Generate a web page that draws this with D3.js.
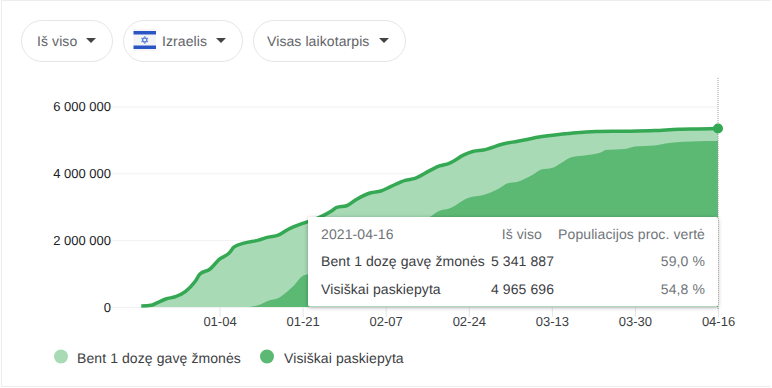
<!DOCTYPE html>
<html>
<head>
<meta charset="utf-8">
<script src="https://cdnjs.cloudflare.com/ajax/libs/d3/7.8.5/d3.min.js"></script>
<style>
  html, body { margin: 0; padding: 0; background: #fff; overflow: hidden; }
  text { font-family: Arial, "Liberation Sans", sans-serif; text-rendering: geometricPrecision; }
  .label14 { letter-spacing: 0.09px; }
  .y-axis path, .x-axis path { display: none; }
  .y-axis line { stroke: #f1f1f1; }
  .x-axis line { stroke: #e4e4e4; }
  .y-axis text { font-size: 13px; fill: #202124; }
  .x-axis text { font-size: 13px; fill: #3c4043; }
</style>
</head>
<body>
<div id="chart-container"></div>
<script>
// Dates and values
var firstDoseDates = ["2020-12-19","2020-12-21","2020-12-22","2020-12-24","2020-12-26","2020-12-28","2020-12-30","2020-12-31","2021-01-02","2021-01-04","2021-01-06","2021-01-07","2021-01-09","2021-01-12","2021-01-14","2021-01-16","2021-01-18","2021-01-21","2021-01-22","2021-01-25","2021-01-27","2021-01-28","2021-01-30","2021-02-01","2021-02-04","2021-02-06","2021-02-08","2021-02-11","2021-02-13","2021-02-16","2021-02-18","2021-02-20","2021-02-23","2021-02-25","2021-02-27","2021-03-03","2021-03-06","2021-03-11","2021-03-17","2021-03-22","2021-03-28","2021-04-03","2021-04-08","2021-04-12","2021-04-16"];
var firstDoseValues = [30000,50000,110000,240000,310000,460000,760000,990000,1130000,1430000,1620000,1800000,1910000,2000000,2090000,2150000,2320000,2500000,2550000,2720000,2880000,2980000,3030000,3220000,3420000,3470000,3600000,3790000,3850000,4080000,4220000,4300000,4550000,4660000,4700000,4880000,4960000,5100000,5200000,5250000,5260000,5280000,5320000,5330000,5341887];

var fullDates = ["2021-01-10","2021-01-12","2021-01-14","2021-01-16","2021-01-17","2021-01-19","2021-01-21","2021-01-22","2021-01-25","2021-01-29","2021-02-02","2021-02-07","2021-02-12","2021-02-16","2021-02-18","2021-02-20","2021-02-24","2021-02-27","2021-03-02","2021-03-04","2021-03-06","2021-03-09","2021-03-11","2021-03-13","2021-03-15","2021-03-17","2021-03-20","2021-03-23","2021-03-24","2021-03-28","2021-03-30","2021-04-03","2021-04-06","2021-04-12","2021-04-16"];
var fullValues = [0,60000,190000,260000,360000,610000,930000,980000,1260000,1700000,2000000,2240000,2480000,2690000,2880000,2950000,3270000,3350000,3530000,3700000,3750000,3950000,4120000,4160000,4320000,4480000,4540000,4620000,4700000,4730000,4800000,4830000,4910000,4960000,4965696];

var xTickDates = ["2021-01-04","2021-01-21","2021-02-07","2021-02-24","2021-03-13","2021-03-30","2021-04-16"];
var yTickValues = [0, 2000000, 4000000, 6000000];

var seriesNames = ["Bent 1 dozę gavę žmonės", "Visiškai paskiepyta"];
var seriesColors = ["#a8dab5", "#5bb974"];
var lineColor = "#34a853";

var chipLabels = ["Iš viso", "Izraelis", "Visas laikotarpis"];
var tooltipDate = "2021-04-16";
var tooltipHeaders = ["Iš viso", "Populiacijos proc. vertė"];
var tooltipTotals = ["5 341 887", "4 965 696"];
var tooltipShares = ["59,0 %", "54,8 %"];

var parseDate = d3.timeParse("%Y-%m-%d");

var firstDose = firstDoseDates.map(function(d, i) { return { date: parseDate(d), value: firstDoseValues[i] }; });
var full = fullDates.map(function(d, i) { return { date: parseDate(d), value: fullValues[i] }; });

var svg = d3.select("#chart-container")
  .append("svg")
  .attr("width", 772)
  .attr("height", 388)
  .style("display", "block");

var defs = svg.append("defs");
var shadow = defs.append("filter").attr("id", "tipShadow")
  .attr("x", "-5%").attr("y", "-10%").attr("width", "110%").attr("height", "125%");
shadow.append("feDropShadow")
  .attr("dx", 0).attr("dy", 1).attr("stdDeviation", 2)
  .attr("flood-color", "#000").attr("flood-opacity", 0.3);

// Card border
svg.append("path")
  .attr("d", "M770.5,0.5H1.5V386.5H770.5")
  .attr("fill", "none")
  .attr("stroke", "#ececec");

// Chips on top
var chipBoxes = [
  { x: 21.5, w: 91, textX: 37, arrowX: 91 },
  { x: 123.5, w: 119, textX: 162, arrowX: 221 },
  { x: 253.5, w: 152, textX: 267, arrowX: 384 }
];
var chips = svg.selectAll(".chip")
  .data(chipBoxes)
  .enter()
  .append("g")
  .attr("class", "chip");
chips.append("rect")
  .attr("x", function(d) { return d.x; })
  .attr("y", 20.5)
  .attr("width", function(d) { return d.w; })
  .attr("height", 41)
  .attr("rx", 20.5)
  .attr("fill", "#fff")
  .attr("stroke", "#e6e6e6");
chips.append("text")
  .attr("class", "label14")
  .attr("x", function(d) { return d.textX; })
  .attr("y", 46)
  .attr("font-size", 14)
  .attr("fill", "#5f6368")
  .text(function(d, i) { return chipLabels[i]; });
chips.append("path")
  .attr("d", function(d) { return "M" + (d.arrowX - 5) + ",38L" + (d.arrowX + 5) + ",38L" + d.arrowX + ",43Z"; })
  .attr("fill", "#444");

// Flag of the Izraelis chip
var flag = svg.append("g").attr("transform", "translate(133.5,29)");
flag.append("rect").attr("width", 22.5).attr("height", 22).attr("fill", "#f4f4f4");
flag.append("rect").attr("y", 2).attr("width", 22.5).attr("height", 3.5).attr("fill", "#2b55c4");
flag.append("rect").attr("y", 16.5).attr("width", 22.5).attr("height", 3.5).attr("fill", "#2b55c4");
flag.append("path").attr("d", "M11.2,7.5L14.2,12.7H8.2ZM11.2,14.5L8.2,9.3H14.2Z")
  .attr("fill", "none").attr("stroke", "#4a76d8").attr("stroke-width", 0.9);

// Scales
var xScale = d3.scaleTime()
  .domain([parseDate(xTickDates[0]), parseDate(xTickDates[6])])
  .range([219.5, 718]);
var yScale = d3.scaleLinear()
  .domain([0, 6000000])
  .range([307, 106.5]);

// Axes
svg.append("g")
  .attr("class", "y-axis")
  .attr("transform", "translate(112,0)")
  .call(d3.axisLeft(yScale)
    .tickValues(yTickValues)
    .tickSize(-606)
    .tickPadding(1)
    .tickFormat(function(d) { return d3.format(",")(d).replace(/,/g, " "); }));

svg.append("g")
  .attr("class", "x-axis")
  .attr("transform", "translate(0,307)")
  .call(d3.axisBottom(xScale)
    .tickValues(xTickDates.map(parseDate))
    .tickSize(10)
    .tickPadding(0)
    .tickFormat(d3.timeFormat("%m-%d")));

// Areas and the line
var area = d3.area()
  .curve(d3.curveMonotoneX)
  .x(function(d) { return xScale(d.date); })
  .y0(yScale(0))
  .y1(function(d) { return yScale(d.value); });
var line = d3.line()
  .curve(d3.curveMonotoneX)
  .x(function(d) { return xScale(d.date); })
  .y(function(d) { return yScale(d.value); });

svg.append("path").datum(firstDose).attr("fill", seriesColors[0]).attr("d", area);
svg.append("path").datum(full).attr("fill", seriesColors[1]).attr("d", area);
svg.append("path").datum(firstDose)
  .attr("fill", "none")
  .attr("stroke", lineColor)
  .attr("stroke-width", 3.5)
  .attr("stroke-linejoin", "round")
  .attr("d", line);

// Hover marker
var last = firstDose[firstDose.length - 1];
svg.append("line")
  .attr("x1", xScale(last.date)).attr("x2", xScale(last.date))
  .attr("y1", 78).attr("y2", yScale(0) + 3)
  .attr("stroke", "#9a9a9a")
  .attr("stroke-dasharray", "1,1");
svg.append("circle")
  .attr("cx", xScale(last.date))
  .attr("cy", yScale(last.value))
  .attr("r", 5)
  .attr("fill", lineColor);

// Tooltip
var tip = svg.append("g").attr("transform", "translate(308,217)");
tip.append("rect")
  .attr("width", 410).attr("height", 89.5).attr("rx", 2)
  .attr("fill", "#fff")
  .attr("filter", "url(#tipShadow)");
function tipText(x, y, str, color, anchor) {
  tip.append("text")
    .attr("class", "label14")
    .attr("x", x).attr("y", y)
    .attr("font-size", 14)
    .attr("fill", color)
    .attr("text-anchor", anchor || "start")
    .text(str);
}
tipText(13, 22, tooltipDate, "#70757a");
tipText(234, 22, tooltipHeaders[0], "#70757a", "end");
tipText(397, 22, tooltipHeaders[1], "#70757a", "end");
seriesNames.forEach(function(name, i) {
  var rowY = 49 + i * 27.5;
  tipText(13, rowY, name, "#3c4043");
  tipText(183, rowY, tooltipTotals[i], "#3c4043");
  tipText(397, rowY, tooltipShares[i], "#70757a", "end");
});

// Legend
var legendItems = [{ cx: 61, textX: 77 }, { cx: 267, textX: 284 }];
var legend = svg.selectAll(".legend-item")
  .data(legendItems)
  .enter()
  .append("g")
  .attr("class", "legend-item");
legend.append("circle")
  .attr("cx", function(d) { return d.cx; })
  .attr("cy", 356.5)
  .attr("r", 7)
  .attr("fill", function(d, i) { return seriesColors[i]; });
legend.append("text")
  .attr("class", "label14")
  .attr("x", function(d) { return d.textX; })
  .attr("y", 363)
  .attr("font-size", 14)
  .attr("fill", "#3c4043")
  .text(function(d, i) { return seriesNames[i]; });
</script>
</body>
</html>
